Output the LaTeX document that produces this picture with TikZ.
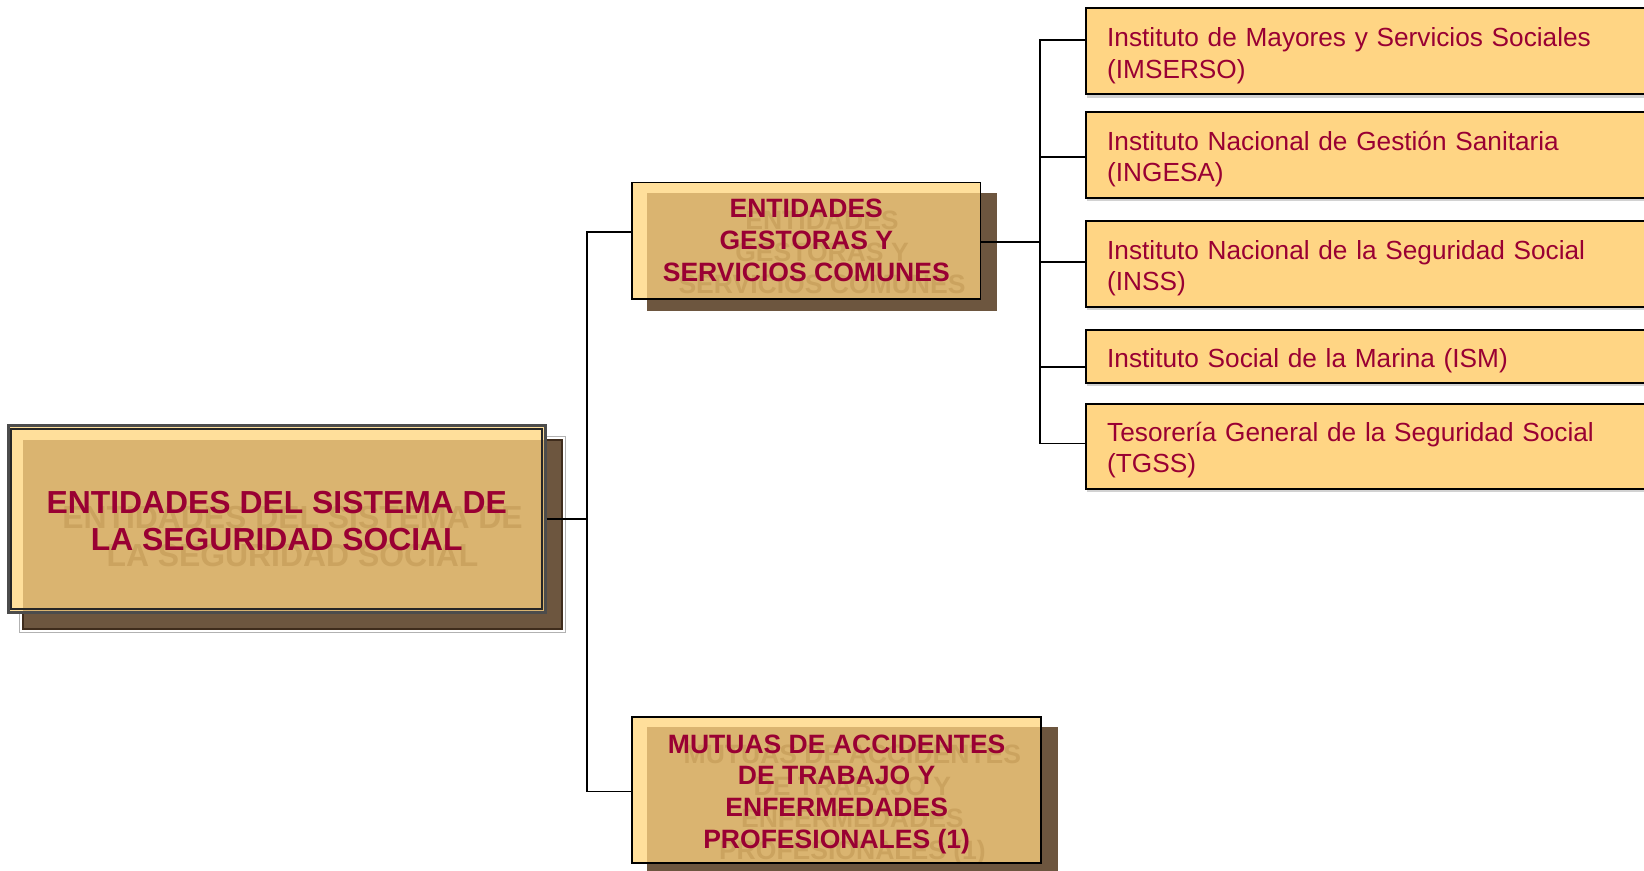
\documentclass[tikz,border=0pt]{standalone}
\usepackage{fontspec}
\setmainfont{Liberation Sans}
\usetikzlibrary{backgrounds}
\definecolor{crim}{HTML}{990033}
\definecolor{lyel}{HTML}{FFDF9B}
\definecolor{tanc}{HTML}{DAB470}
\definecolor{ghost}{HTML}{CBA35F}
\definecolor{dbrown}{HTML}{6D563F}
\definecolor{dbline}{HTML}{3F2C1C}
\definecolor{rbox}{HTML}{FFD584}
\tikzset{
  conn/.style={draw=black, line width=1.5pt},
  bigtxt/.style={font=\bfseries\fontsize{30.4}{36}\selectfont, text=crim, align=center},
  midtxt/.style={font=\bfseries\fontsize{25.3}{30.4}\selectfont, text=crim, align=center},
  rtxt/.style={font=\fontsize{25}{30.2}\selectfont, text=crim, align=left},
  rightbox/.style={rtxt, draw=black, line width=2pt, fill=rbox, anchor=west,
    text width=505pt, inner xsep=20pt, inner ysep=0pt, minimum width=545pt,
    execute at begin node={\rule{0pt}{26pt}}},
  midbox/.style={midtxt, draw=black, line width=1.5pt, inner sep=0pt},
}
\newcommand{\mainT}{\rule{0pt}{25pt}ENTIDADES DEL SISTEMA DE\\LA SEGURIDAD SOCIAL}
\newcommand{\gestT}{ENTIDADES\\GESTORAS Y\\SERVICIOS COMUNES}
\newcommand{\mutT}{\rule{0pt}{26pt}MUTUAS DE ACCIDENTES\\DE TRABAJO Y\\ENFERMEDADES\\PROFESIONALES (1)}
\begin{document}
\begin{tikzpicture}[x=1pt, y=-1pt]
\useasboundingbox (0,0) rectangle (1568,830.7);

% main box
\node[bigtxt, draw=black!70, line width=2.5pt, minimum width=512pt, minimum height=178pt, inner sep=0pt]
  (mb) at (264,495) {\mainT};
\draw[line width=2pt, black!85] ([shift={(4,4)}]mb.north west) rectangle ([shift={(-4,-4)}]mb.south east);

% gestoras box
\node[midbox, minimum width=332pt, minimum height=111pt]
  (ge) at (769,229.5) {\gestT};

% mutuas box
\node[midbox, minimum width=390pt, minimum height=139pt]
  (mu) at (798,753.5) {\mutT};

% right boxes
\node[rightbox, minimum height=82pt] (r1) at (1035,49) {Instituto de Mayores y Servicios Sociales\\(IMSERSO)};
\node[rightbox, minimum height=82pt] (r2) at (1035,148) {Instituto Nacional de Gestión Sanitaria\\(INGESA)};
\node[rightbox, minimum height=82pt] (r3) at (1035,252) {Instituto Nacional de la Seguridad Social\\(INSS)};
\node[rightbox, minimum height=50pt, execute at begin node={\rule{0pt}{19pt}}] (r4) at (1035,340) {Instituto Social de la Marina (ISM)};
\node[rightbox, minimum height=81pt] (r5) at (1035,425.5) {Tesorería General de la Seguridad Social\\(TGSS)};

% background layers (shadows, fills, ghost text)
\begin{scope}[on background layer]
  % main
  \draw[gray!60, line width=1pt] ([shift={(12,12)}]mb.north west) rectangle ([shift={(18,18)}]mb.south east);
  \filldraw[fill=dbrown, draw=dbline, line width=2pt] ([shift={(15,15)}]mb.north west) rectangle ([shift={(15,15)}]mb.south east);
  \fill[lyel] (mb.north west) rectangle (mb.south east);
  \fill[tanc] ([shift={(15,15)}]mb.north west) rectangle (mb.south east);
  \begin{scope}
    \clip ([shift={(15,15)}]mb.north west) rectangle (mb.south east);
    \node[bigtxt, text=ghost] (mbg) at ([shift={(15,15)}]mb.center) {\mainT};
  \end{scope}
  % gestoras
  \fill[dbrown] ([shift={(15,11)}]ge.north west) rectangle ([shift={(15,11)}]ge.south east);
  \fill[lyel] (ge.north west) rectangle (ge.south east);
  \fill[tanc] ([shift={(15,11)}]ge.north west) rectangle (ge.south east);
  \begin{scope}
    \clip ([shift={(15,11)}]ge.north west) rectangle (ge.south east);
    \node[midtxt, text=ghost] (geg) at ([shift={(15,11)}]ge.center) {\gestT};
  \end{scope}
  % mutuas
  \fill[dbrown] ([shift={(15,10)}]mu.north west) rectangle ([shift={(15,10)}]mu.south east);
  \fill[lyel] (mu.north west) rectangle (mu.south east);
  \fill[tanc] ([shift={(15,10)}]mu.north west) rectangle (mu.south east);
  \begin{scope}
    \clip ([shift={(15,10)}]mu.north west) rectangle (mu.south east);
    \node[midtxt, text=ghost] (mug) at ([shift={(15,10)}]mu.center) {\mutT};
  \end{scope}
  % light shadows of right boxes
  \foreach \r in {r1,r2,r3,r4,r5}{
    \fill[gray!35] ([shift={(2,2)}]\r.north west) rectangle ([shift={(2,2)}]\r.south east);
  }
\end{scope}

% connectors left
\coordinate (j1) at (560,495);
\draw[conn] (mb.east) -- (j1);
\draw[conn] ([yshift=8.5pt]ge.west) -| (j1) |- ([yshift=-1.5pt]mu.west);

% connectors right
\coordinate (j2) at (992,231);
\draw[conn] ([yshift=-1.5pt]ge.east) -- (j2);
\draw[conn] ([yshift=11pt]r1.west) -| (j2) |- ([yshift=2.5pt]r5.west);
\coordinate (c2) at ([yshift=-2pt]r2.west);
\coordinate (c3) at ([yshift=2pt]r3.west);
\coordinate (c4) at ([yshift=-10pt]r4.west);
\draw[conn] (c2) -- (c2 -| j2);
\draw[conn] (c3) -- (c3 -| j2);
\draw[conn] (c4) -- (c4 -| j2);
\end{tikzpicture}
\end{document}
